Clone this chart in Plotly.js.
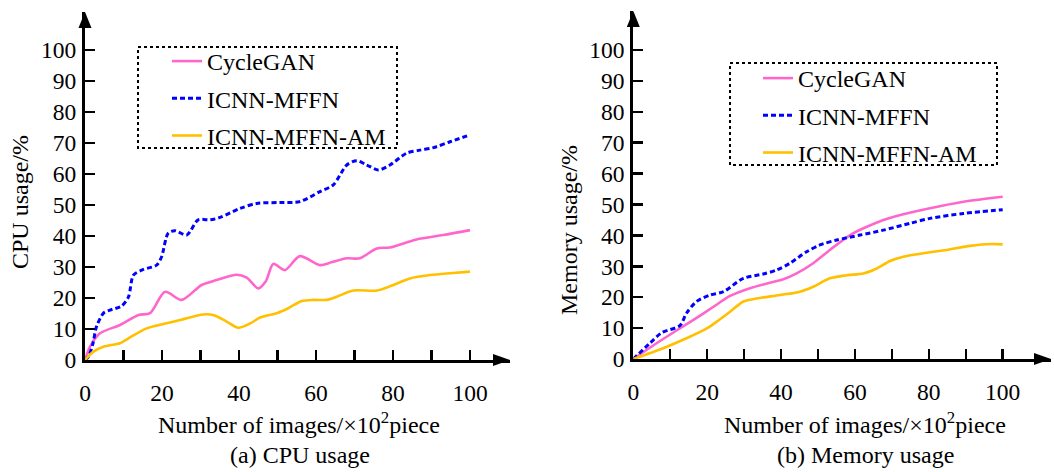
<!DOCTYPE html>
<html>
<head>
<meta charset="utf-8">
<script src="https://cdn.plot.ly/plotly-3.0.1.min.js"></script>
<style>html,body{margin:0;padding:0;background:#fff;}#chart{width:1054px;height:472px;}</style>
</head>
<body>
<div id="chart"></div>
<script>
// ---------- data ----------
const seriesNames = ["CycleGAN", "ICNN-MFFN", "ICNN-MFFN-AM"];

// (a) CPU usage
const cpuCycleX = [0, 1.3, 3.9, 9.1, 13.9, 16.9, 20.8, 25.1, 30.3, 34.2, 39.4, 42, 45, 47, 48.9, 51.9, 55.8, 61, 64, 68, 71.4, 75.8, 79.2, 86.1, 93, 100];
const cpuCycleY = [0, 4.3, 8.6, 11.3, 14.5, 15.1, 22.0, 19.4, 24.2, 25.8, 27.5, 26.6, 23.1, 25.5, 31.0, 29.0, 33.5, 30.6, 31.5, 32.8, 32.8, 36.0, 36.3, 38.9, 40.3, 41.9];

const cpuMffnX = [0, 0.9, 2, 3, 4.8, 6.5, 9.5, 11.3, 12.6, 15.2, 18.6, 19.9, 21.6, 23.4, 26.4, 29.4, 32.5, 35.1, 40.3, 44.6, 50.6, 55.8, 61, 64.5, 68, 70.6, 73.2, 76.2, 79.2, 83.5, 87, 90.5, 94.8, 100];
const cpuMffnY = [0, 1.1, 5, 10.8, 15.1, 16.1, 17.4, 20.4, 27.4, 29.2, 30.6, 33.3, 40.9, 41.7, 40.3, 45.2, 45.2, 46.0, 48.9, 50.5, 50.8, 51.1, 54.3, 56.5, 62.9, 64.3, 62.9, 61.3, 62.9, 66.7, 67.7, 68.5, 70.4, 72.6];

const cpuAmX = [0, 2.2, 4.8, 9.1, 11.3, 16, 20.3, 24.7, 30.7, 33.3, 36.8, 39.8, 42.9, 45.5, 49.8, 52.8, 56.3, 59.3, 62.8, 65.4, 69.7, 75.8, 80.1, 84.4, 89.6, 94.8, 100];
const cpuAmY = [0, 2.7, 4.3, 5.4, 7.0, 10.2, 11.6, 12.9, 14.7, 14.5, 12.4, 10.4, 11.8, 13.7, 15.1, 16.7, 19.0, 19.4, 19.4, 20.4, 22.4, 22.4, 24.2, 26.3, 27.4, 28.0, 28.5];

// (b) Memory usage
const memCycleX = [0, 6.3, 12.6, 16.2, 21.7, 26.2, 31.6, 37, 40.6, 44.2, 48.7, 53.2, 58.7, 62.3, 67.7, 71.3, 80.3, 89.4, 100];
const memCycleY = [0, 5.1, 9.9, 12.6, 16.9, 20.4, 22.9, 24.7, 25.8, 27.7, 31.0, 35.3, 40.1, 42.3, 45.0, 46.3, 48.8, 50.9, 52.5];

const memMffnX = [0, 4.5, 7.7, 12.6, 14.4, 17.1, 20.8, 24.4, 29.8, 35.2, 38.8, 42.4, 46.9, 50.5, 55.1, 61.4, 67.7, 74.9, 80.3, 89.4, 100];
const memMffnY = [0, 5.1, 8.5, 10.8, 14.8, 18.6, 20.7, 21.8, 26.1, 27.5, 28.8, 31.0, 34.7, 36.9, 38.5, 40.1, 41.7, 43.9, 45.5, 47.1, 48.3];

const memAmX = [0, 8.1, 14.4, 19.9, 22.6, 26.2, 29.8, 33.4, 39.7, 45.1, 48.7, 53.2, 57.8, 62.3, 65.9, 69.5, 73.1, 78.5, 84.8, 91.2, 96.6, 100];
const memAmY = [0, 3.5, 6.7, 9.9, 12.1, 15.3, 18.6, 19.6, 20.7, 21.8, 23.4, 26.1, 27.1, 27.7, 29.3, 31.7, 33.1, 34.2, 35.3, 36.6, 37.2, 37.1];

// tick labels
const xTickVals = [0, 20, 40, 60, 80, 100];
const xMinorVals = [10, 30, 50, 70, 90];
const yTickVals = [0, 10, 20, 30, 40, 50, 60, 70, 80, 90, 100];

const xTitle = "Number of images/×10<sup>2</sup>piece";
const yTitleA = "CPU usage/%";
const yTitleB = "Memory usage/%";
const captionA = "(a) CPU usage";
const captionB = "(b) Memory usage";

// ---------- styles ----------
const W = 1054, H = 472;
const FONT = "'Liberation Serif', 'Times New Roman', Times, serif";
const styles = [
  {color: "#FF66CC", width: 2.6, dash: "solid"},
  {color: "#0000FF", width: 3, dash: "5px,3px"},
  {color: "#FFC000", width: 2.6, dash: "solid"}
];
const px = v => v / W;
const py = v => 1 - v / H;

function mk(x, y, i, xa, ya, leg) {
  return {
    type: "scatter", mode: "lines", x: x, y: y, name: seriesNames[i],
    xaxis: xa, yaxis: ya, legend: leg, legendgroup: leg + i,
    line: {color: styles[i].color, width: styles[i].width, dash: styles[i].dash, shape: "spline", smoothing: 0.8},
    hoverinfo: "x+y"
  };
}

const data = [
  mk(cpuCycleX, cpuCycleY, 0, "x", "y", "legend"),
  mk(cpuMffnX, cpuMffnY, 1, "x", "y", "legend"),
  mk(cpuAmX, cpuAmY, 2, "x", "y", "legend"),
  mk(memCycleX, memCycleY, 0, "x2", "y2", "legend2"),
  mk(memMffnX, memMffnY, 1, "x2", "y2", "legend2"),
  mk(memAmX, memAmY, 2, "x2", "y2", "legend2")
];

function xAxis(domain, range, anchor) {
  return {
    domain: domain, range: range, anchor: anchor,
    showline: true, linecolor: "#000", linewidth: 3,
    showgrid: false, zeroline: false,
    tickmode: "array", tickvals: xTickVals,
    ticks: "inside", ticklen: 10, tickwidth: 2.5, tickcolor: "#000",
    ticklabelstandoff: 10,
    minor: {tickmode: "array", tickvals: xMinorVals, ticks: "inside", ticklen: 10, tickwidth: 2.5, tickcolor: "#000", showgrid: false},
    tickfont: {family: FONT, size: 23.5, color: "#000"},
    fixedrange: true
  };
}
function yAxis(domain, range, anchor) {
  return {
    domain: domain, range: range, anchor: anchor,
    showline: true, linecolor: "#000", linewidth: 3,
    showgrid: false, zeroline: false,
    tickmode: "array", tickvals: yTickVals,
    ticks: "inside", ticklen: 10, tickwidth: 2.5, tickcolor: "#000",
    ticklabelstandoff: 1,
    tickfont: {family: FONT, size: 23.5, color: "#000"},
    fixedrange: true
  };
}

// axis geometry (pixels)
const A = {x0: 85, xTip: 510, x100: 470, y0: 360, yTip: 12, y100: 50};
const B = {x0: 633.3, xTip: 1051, x100: 1002.7, y0: 359, yTip: 11, y100: 50};
const rngX = g => [0, 100 * (g.xTip - g.x0) / (g.x100 - g.x0)];
const rngY = g => [0, 100 * (g.y0 - g.yTip) / (g.y0 - g.y100)];

// arrow heads as paper-coordinate triangles (margins are 0, so paper = window)
function tri(pts) {
  return "M" + pts.map(p => px(p[0]).toFixed(5) + "," + py(p[1]).toFixed(5)).join(" L") + " Z";
}
function arrowShapes(g) {
  return [
    {type: "path", xref: "paper", yref: "paper", path: tri([[g.xTip, g.y0], [g.xTip - 17, g.y0 - 6], [g.xTip - 17, g.y0 + 6]]),
     fillcolor: "#000", line: {width: 0}},
    {type: "path", xref: "paper", yref: "paper", path: tri([[g.x0, g.yTip], [g.x0 - 6.5, g.yTip + 16], [g.x0 + 6.5, g.yTip + 16]]),
     fillcolor: "#000", line: {width: 0}}
  ];
}

function ann(text, x, y, angle) {
  return {text: text, xref: "paper", yref: "paper", x: px(x), y: py(y), xanchor: "center", yanchor: "middle",
          showarrow: false, textangle: angle || 0, font: {family: FONT, size: 24, color: "#000"}};
}

const legendFont = {family: FONT, size: 24, color: "#000"};

const layout = {
  width: W, height: H,
  margin: {l: 0, r: 0, t: 0, b: 0},
  paper_bgcolor: "#fff", plot_bgcolor: "rgba(0,0,0,0)",
  font: {family: FONT, size: 24, color: "#000"},
  showlegend: true,
  xaxis: xAxis([px(A.x0), px(A.xTip)], rngX(A), "y"),
  yaxis: yAxis([py(A.y0), py(A.yTip)], rngY(A), "x"),
  xaxis2: xAxis([px(B.x0), px(B.xTip)], rngX(B), "y2"),
  yaxis2: yAxis([py(B.y0), py(B.yTip)], rngY(B), "x2"),
  legend: {x: px(167), y: py(39), xanchor: "left", yanchor: "top", bgcolor: "rgba(0,0,0,0)",
           borderwidth: 0, traceorder: "grouped", tracegroupgap: 3, font: legendFont},
  legend2: {x: px(758), y: py(56), xanchor: "left", yanchor: "top", bgcolor: "rgba(0,0,0,0)",
           borderwidth: 0, traceorder: "grouped", tracegroupgap: 3, font: legendFont},
  shapes: [
    {type: "rect", xref: "paper", yref: "paper", x0: px(138), x1: px(397), y0: py(47), y1: py(148),
     line: {color: "#000", width: 2, dash: "dot"}},
    {type: "rect", xref: "paper", yref: "paper", x0: px(730), x1: px(997), y0: py(63), y1: py(165),
     line: {color: "#000", width: 2, dash: "dot"}}
  ].concat(arrowShapes(A), arrowShapes(B)),
  annotations: [
    ann(xTitle, 299, 423), ann(xTitle, 865, 423),
    ann(yTitleA, 20, 202, -90), ann(yTitleB, 569, 230, -90),
    ann(captionA, 300, 455), ann(captionB, 865, 455)
  ]
};

Plotly.newPlot("chart", data, layout, {displayModeBar: false, staticPlot: true});
</script>
</body>
</html>
